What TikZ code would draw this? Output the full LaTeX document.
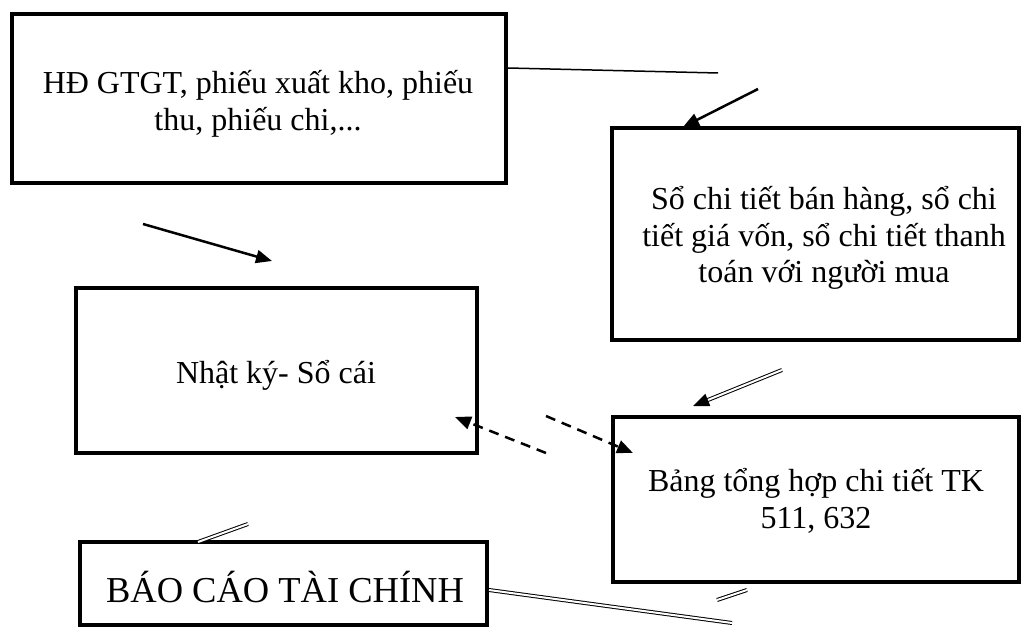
\documentclass[tikz,border=0pt]{standalone}
\usepackage{fontspec}
\setmainfont{Liberation Serif}
\usetikzlibrary{arrows.meta,calc}
\begin{document}
\begin{tikzpicture}[x=1pt,y=-1pt,
  box/.style={draw, line width=4pt, rectangle, inner sep=0pt},
  txt/.style={align=center, inner sep=0pt, font=\fontsize{32}{36.8}\selectfont},
  bigtxt/.style={txt, font=\fontsize{36.5}{42}\selectfont},
  thinline/.style={line width=1.5pt},
  solidarrow/.style={line width=2.5pt, -{Triangle[length=16pt,width=13pt]}},
  dasharrow/.style={line width=2.5pt, dash pattern=on 10pt off 7pt, -{Triangle[length=16pt,width=13pt]}},
  dbl/.style={double, double distance=2pt, line width=1pt},
  dblarrow/.style={dbl, -{Triangle[length=16pt,width=13pt]}}]
\useasboundingbox (0,0) rectangle (1023,628);

% boxes
\node[box, minimum width=494pt, minimum height=169pt] (b1) at (259,98.5) {};
\node[box, minimum width=407pt, minimum height=212pt] (b2) at (815.5,234) {};
\node[box, minimum width=401pt, minimum height=165pt] (b3) at (276.5,370.5) {};
\node[box, minimum width=406pt, minimum height=165pt] (b4) at (816,499.5) {};
\node[box, minimum width=407pt, minimum height=83pt] (b5) at (283.5,583.5) {};

% texts
\node[txt] (t1) at (258,103.5) {HĐ GTGT, phiếu xuất kho, phiếu\\thu, phiếu chi,...};
\node[txt] (t2) at (824,238) {Sổ chi tiết bán hàng, sổ chi\\tiết giá vốn, sổ chi tiết thanh\\toán với người mua};
\node[txt, anchor=base] (t3) at (276,384) {Nhật ký- Sổ cái};
\node[txt] (t4) at (816,500.5) {Bảng tổng hợp chi tiết TK\\511, 632};
\node[bigtxt, anchor=base] (t5) at (285,602) {BÁO CÁO TÀI CHÍNH};

% free ends of the connectors
\coordinate (p1) at (718,73);
\coordinate (p2) at (758,89);
\coordinate (p3) at (683,127);
\coordinate (p4) at (143,224);
\coordinate (p5) at (272,261);
\coordinate (p6) at (546,453);
\coordinate (p7) at (455,417);
\coordinate (p8) at (546,416);
\coordinate (p9) at (633,453);
\coordinate (p10) at (782,370);
\coordinate (p11) at (693,406);
\coordinate (p12) at (198,542);
\coordinate (p13) at (248,524);
\coordinate (p14) at (488,590);
\coordinate (p15) at (732,623);
\coordinate (p16) at (717,600);
\coordinate (p17) at (747,590);

% connectors
\draw[thinline] (b1.east |- 0,68) -- (p1);
\draw[solidarrow] (p2) -- (p3);
\draw[solidarrow] (p4) -- (p5);
\draw[dasharrow] (p6) -- (p7);
\draw[dasharrow] (p8) -- (p9);
\draw[dblarrow] (p10) -- (p11);
\draw[dbl] (p12) -- (p13);
\draw[dbl] (b5.east |- p14) -- (p15);
\draw[dbl] (p16) -- (p17);
\end{tikzpicture}
\end{document}
